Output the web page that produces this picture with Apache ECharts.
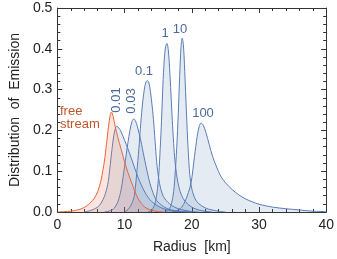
<!DOCTYPE html>
<html><head><meta charset="utf-8">
<script src="https://cdn.jsdelivr.net/npm/echarts@6/dist/echarts.min.js"></script>
<style>html,body{margin:0;padding:0;background:#fff}#c{width:337px;height:259px}</style>
</head><body><div id="c"></div>
<script>
// Radius (km) and distribution values for each curve
const freeR = [0,1,2,3,4,5,5.5,6,6.5,7,7.3,7.6,7.85,8.05,8.3,8.6,9,9.5,10,10.5,11,11.5,12,12.5,13,14,15,16];
const freeY = [0,0.001,0.002,0.005,0.011,0.024,0.034,0.05,0.078,0.125,0.165,0.208,0.236,0.245,0.234,0.21,0.183,0.153,0.123,0.097,0.074,0.052,0.033,0.021,0.012,0.004,0.001,0];

const c001R = [4,5,6,6.5,7,7.5,7.8,8.1,8.4,8.6,8.8,9.1,9.5,10,10.5,11,11.5,12,12.5,13,13.5,14,15,16,17,18,20];
const c001Y = [0,0.004,0.012,0.022,0.038,0.068,0.105,0.15,0.188,0.203,0.21,0.207,0.196,0.176,0.155,0.132,0.108,0.085,0.066,0.049,0.036,0.026,0.014,0.007,0.003,0.001,0];

const c003R = [7,8,8.5,9,9.5,10,10.5,10.8,11.1,11.35,11.6,11.9,12.4,12.9,13.4,13.9,14.6,15,16,17,18,20];
const c003Y = [0,0.004,0.01,0.025,0.056,0.112,0.17,0.2,0.222,0.228,0.224,0.21,0.176,0.135,0.096,0.063,0.032,0.024,0.011,0.005,0.002,0];

const c01R = [10,10.5,11,11.45,11.9,12.2,12.4,12.7,13,13.2,13.38,13.6,13.85,14.1,14.35,14.6,14.84,15.2,15.6,16,17,18,19,20,21];
const c01Y = [0,0.006,0.018,0.04,0.112,0.17,0.216,0.27,0.307,0.319,0.322,0.318,0.295,0.26,0.216,0.16,0.112,0.07,0.045,0.032,0.016,0.008,0.004,0.001,0];

const c1R = [13.4,13.8,14.2,14.6,14.9,15.1,15.3,15.5,15.7,15.9,16.1,16.3,16.5,16.7,16.9,17.1,17.3,17.5,17.8,18.1,18.5,19,20,21,22,23];
const c1Y = [0,0.002,0.008,0.025,0.058,0.095,0.155,0.225,0.31,0.372,0.405,0.413,0.398,0.352,0.29,0.225,0.168,0.125,0.085,0.06,0.04,0.026,0.012,0.005,0.002,0];

const c10R = [16,16.6,17,17.3,17.5,17.75,18,18.2,18.4,18.57,18.75,18.95,19.2,19.45,19.7,20,20.5,21,22,23,24,25];
const c10Y = [0,0.006,0.022,0.05,0.088,0.155,0.245,0.335,0.405,0.426,0.41,0.345,0.245,0.155,0.092,0.057,0.032,0.021,0.01,0.005,0.002,0];

const c100R = [17,18,18.5,19,19.5,19.9,20.4,20.8,21.1,21.38,21.7,22.1,22.6,23.1,23.7,24.3,25,26,27,28,29,30,32,34,36,38,40];
const c100Y = [0,0.005,0.012,0.026,0.048,0.072,0.136,0.185,0.21,0.218,0.213,0.195,0.165,0.136,0.11,0.088,0.072,0.055,0.042,0.032,0.025,0.019,0.012,0.008,0.005,0.002,0.001];

const curveLabels = ['free\nstream','0.01','0.03','0.1','1','10','100'];
const xTicks = [0,10,20,30,40];
const yTicks = [0,0.1,0.2,0.3,0.4,0.5];

const zip = (a,b)=>a.map((v,i)=>[v,b[i]]);
const blueLine = '#5a7db6', blueFill = 'rgba(74,110,170,0.2)';
const orLine = '#ea6438', orFill = 'rgba(240,110,70,0.25)';
function ser(r,y,line,fill,z){
  return {type:'line',data:zip(r,y),smooth:0.3,symbol:'none',z:z,
    lineStyle:{color:line,width:1},areaStyle:{color:fill,origin:'start'},
    xAxisIndex:0,yAxisIndex:0};
}
const chart = echarts.init(document.getElementById('c'),null,{renderer:'canvas'});
function axisCommon(){
  return {axisLine:{show:true,onZero:false,lineStyle:{color:'#333',width:1}},
  axisTick:{show:true,inside:true,length:5,lineStyle:{color:'#333'}},
  minorTick:{show:true,splitNumber:5,length:3,lineStyle:{color:'#333'}},
  splitLine:{show:false},minorSplitLine:{show:false}};
}
const ff = 'Liberation Sans, Arial, sans-serif';
chart.setOption({
  animation:false,
  grid:{left:53,right:9,top:8,bottom:42,containLabel:false},
  xAxis:[
    Object.assign({type:'value',min:0,max:40,interval:10,position:'bottom',
      axisLabel:{color:'#222',fontSize:14,fontFamily:ff,margin:6,
        formatter:v=>xTicks.includes(v)?String(v):''},
      name:'Radius  [km]',nameLocation:'middle',nameGap:28,
      nameTextStyle:{color:'#222',fontSize:14,fontFamily:ff}},axisCommon()),
    Object.assign({type:'value',min:0,max:40,interval:10,position:'top',axisLabel:{show:false}},axisCommon())
  ],
  yAxis:[
    Object.assign({type:'value',min:0,max:0.5,interval:0.1,position:'left',
      axisLabel:{color:'#222',fontSize:14,fontFamily:ff,margin:5,
        formatter:v=>v.toFixed(1)},
      name:'Distribution  of  Emission',nameLocation:'middle',nameGap:35,
      nameTextStyle:{color:'#222',fontSize:14,fontFamily:ff}},axisCommon()),
    Object.assign({type:'value',min:0,max:0.5,interval:0.1,position:'right',axisLabel:{show:false}},axisCommon())
  ],
  series:[
    ser(c001R,c001Y,blueLine,blueFill,2),
    ser(c003R,c003Y,blueLine,blueFill,2),
    ser(c01R,c01Y,blueLine,blueFill,2),
    ser(c1R,c1Y,blueLine,blueFill,2),
    ser(c10R,c10Y,blueLine,blueFill,2),
    ser(c100R,c100Y,blueLine,blueFill,2),
    ser(freeR,freeY,orLine,orFill,3)
  ],
  graphic:[
    {type:'text',left:60,top:105,z:10,style:{text:curveLabels[0],fill:'#c0562f',font:'13px '+ff,lineHeight:13}},
    {type:'text',x:116,y:100,z:10,rotation:Math.PI/2,style:{text:curveLabels[1],fill:'#4b6a9b',font:'13px '+ff,align:'center',verticalAlign:'middle'}},
    {type:'text',x:131,y:101,z:10,rotation:Math.PI/2,style:{text:curveLabels[2],fill:'#4b6a9b',font:'13px '+ff,align:'center',verticalAlign:'middle'}},
    {type:'text',x:144,y:71,z:10,style:{text:curveLabels[3],fill:'#4b6a9b',font:'13px '+ff,align:'center',verticalAlign:'middle'}},
    {type:'text',x:165,y:33,z:10,style:{text:curveLabels[4],fill:'#4b6a9b',font:'13px '+ff,align:'center',verticalAlign:'middle'}},
    {type:'text',x:180,y:29,z:10,style:{text:curveLabels[5],fill:'#4b6a9b',font:'13px '+ff,align:'center',verticalAlign:'middle'}},
    {type:'text',x:203,y:113,z:10,style:{text:curveLabels[6],fill:'#4b6a9b',font:'13px '+ff,align:'center',verticalAlign:'middle'}}
  ]
});
</script></body></html>
